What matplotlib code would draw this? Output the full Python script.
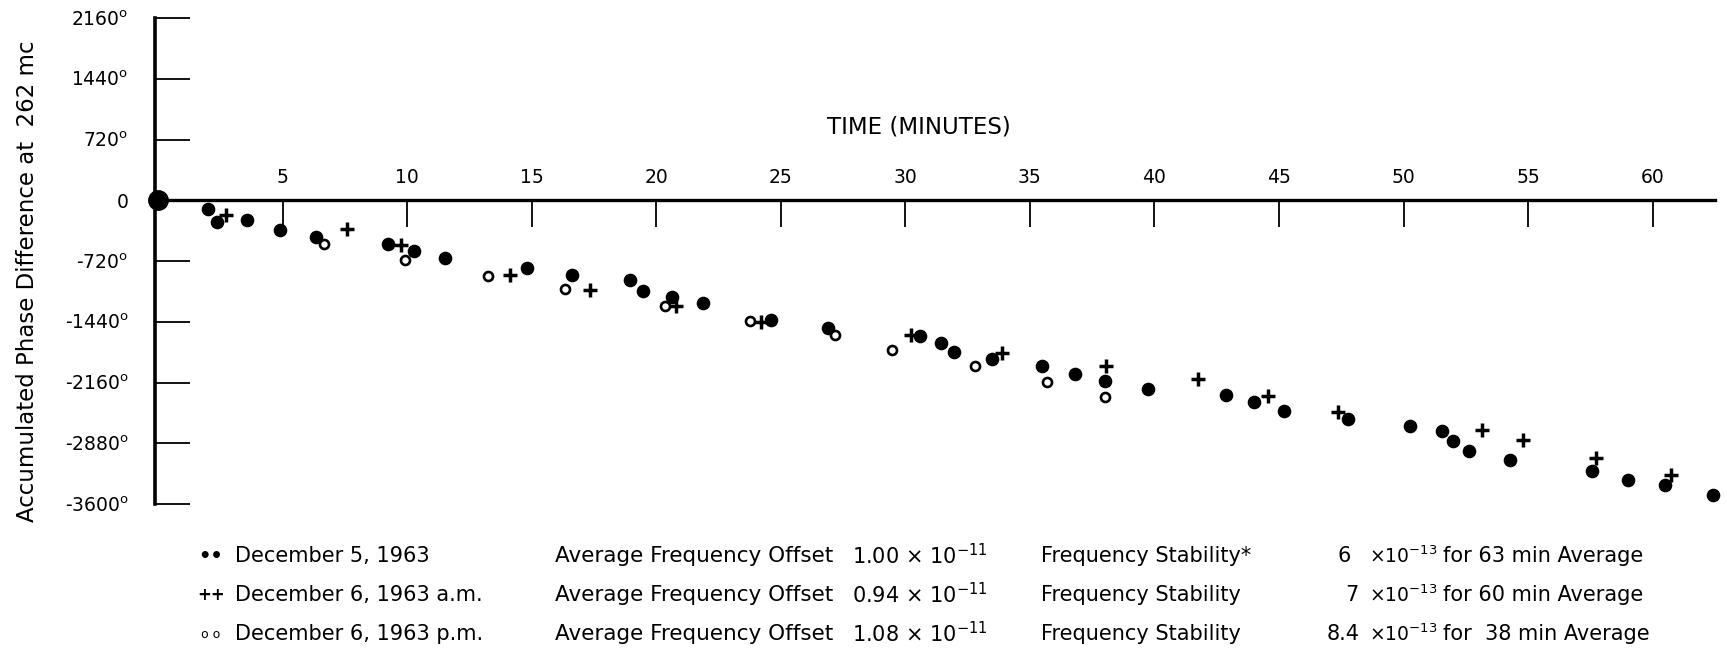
import matplotlib
matplotlib.use("Agg")
import matplotlib.pyplot as plt

plt.rcParams['font.family'] = ['DejaVu Sans']
plt.rcParams['mathtext.fontset'] = 'dejavusans'

# ---------------- data ----------------
origin_t = [0.0]
origin_phase = [0.0]

dec5_t = [2.01, 2.35, 3.56, 4.89, 6.36, 9.24, 10.28, 11.51, 14.83, 16.62,
          18.94, 19.47, 20.63, 21.88, 24.62, 26.89, 30.57, 31.42, 31.95, 33.49,
          35.50, 36.79, 38.00, 39.74, 42.88, 43.98, 45.19, 47.76, 50.27, 51.53,
          52.00, 52.64, 54.29, 57.57, 59.00, 60.50, 62.41]
dec5_phase = [-98, -257, -237, -347, -435, -521, -600, -683, -798, -889,
              -940, -1075, -1146, -1217, -1422, -1513, -1612, -1686, -1797, -1876,
              -1963, -2054, -2141, -2232, -2311, -2397, -2497, -2587, -2674, -2737,
              -2856, -2971, -3073, -3211, -3310, -3369, -3496]

dec6am_t = [2.75, 7.57, 9.74, 14.12, 17.36, 20.81, 24.22, 30.24, 33.89, 38.07,
            41.74, 44.55, 47.36, 53.15, 54.78, 57.73, 60.74]
dec6am_phase = [-178, -344, -533, -889, -1066, -1256, -1442, -1600, -1805, -1967,
                -2113, -2319, -2509, -2725, -2836, -3049, -3259]

dec6pm_t = [6.66, 9.91, 13.25, 16.33, 20.34, 23.75, 27.16, 29.48, 32.78, 35.68, 38.03]
dec6pm_phase = [-513, -711, -900, -1055, -1252, -1434, -1600, -1769, -1963, -2153, -2331]

xtick_vals = [5, 10, 15, 20, 25, 30, 35, 40, 45, 50, 55, 60]
xtick_labels = [str(v) for v in xtick_vals]
ytick_vals = [2160, 1440, 720, 0, -720, -1440, -2160, -2880, -3600]
ytick_labels = ["2160$^{\\mathrm{o}}$", "1440$^{\\mathrm{o}}$", "720$^{\\mathrm{o}}$", "0",
                "-720$^{\\mathrm{o}}$", "-1440$^{\\mathrm{o}}$", "-2160$^{\\mathrm{o}}$",
                "-2880$^{\\mathrm{o}}$", "-3600$^{\\mathrm{o}}$"]

x_title = "TIME (MINUTES)"
y_title = "Accumulated Phase Difference at  262 mc"

legend_symbols = ["\u2022\u2022", "++", "o o"]
legend_dates = ["December 5, 1963", "December 6, 1963 a.m.", "December 6, 1963 p.m."]
legend_offset_label = "Average Frequency Offset"
legend_offsets = ["1.00", "0.94", "1.08"]
legend_stab_labels = ["Frequency Stability*", "Frequency Stability", "Frequency Stability"]
legend_stabs = ["6", "7", "8.4"]
legend_avgs = ["for 63 min Average", "for 60 min Average", "for  38 min Average"]

# ---------------- figure ----------------
W, H = 1727, 653
fig = plt.figure(figsize=(W / 100, H / 100), dpi=100)
ax = fig.add_axes([155 / W, (H - 504) / H, 1560 / W, 486 / H])
ax.set_xlim(-0.12, 62.5)
ax.set_ylim(-3600, 2160)

for s in ("top", "right"):
    ax.spines[s].set_visible(False)
ax.spines["left"].set_linewidth(2.6)
ax.spines["bottom"].set_position(("data", 0))
ax.spines["bottom"].set_linewidth(2.4)

ax.set_yticks(ytick_vals, ytick_labels)
ax.tick_params(axis="y", direction="in", length=25, width=1.3, pad=19, labelsize=13.5)
ax.set_xticks(xtick_vals, xtick_labels)
ax.tick_params(axis="x", direction="out", length=19.5, width=1.3, pad=-43, labelsize=13.5)

ax.plot(dec5_t, dec5_phase, "o", color="black", ms=8.8, clip_on=False, zorder=5)
ax.plot(origin_t, origin_phase, "o", color="black", ms=14, clip_on=False, zorder=6)
ax.plot(dec6am_t, dec6am_phase, "+", color="black", ms=10, mew=2.5, clip_on=False, zorder=5)
ax.plot(dec6pm_t, dec6pm_phase, "o", mfc="white", mec="black", ms=6.5, mew=1.9,
        clip_on=False, zorder=5)

fig.text(919 / W, 1 - 127 / H, x_title, ha="center", va="center", fontsize=16.5)
fig.text(28 / W, 1 - 281 / H, y_title, ha="center", va="center", rotation=90, fontsize=16.5)

row_y = [556, 595, 634]
sym_size = [14, 12, 9]
sym_weight = ["bold", "bold", "normal"]
stab_x = [1344, 1352, 1343]
for i in range(3):
    y = 1 - row_y[i] / H
    fig.text(211 / W, y, legend_symbols[i], ha="center", va="center",
             fontsize=sym_size[i], fontweight=sym_weight[i])
    fig.text(235 / W, y, legend_dates[i], ha="left", va="center", fontsize=15)
    fig.text(555 / W, y, legend_offset_label, ha="left", va="center", fontsize=15.5)
    fig.text(852 / W, y, legend_offsets[i] + " $\\times$ 10$^{-11}$", ha="left",
             va="center", fontsize=15)
    fig.text(1041 / W, y, legend_stab_labels[i], ha="left", va="center", fontsize=15)
    fig.text(stab_x[i] / W, y, legend_stabs[i], ha="center", va="center", fontsize=15)
    fig.text(1369 / W, y, "$\\times$10$^{-13}$", ha="left", va="center", fontsize=13.5)
    fig.text(1443 / W, y, legend_avgs[i], ha="left", va="center", fontsize=15)

fig.savefig("out.png", dpi=100)
